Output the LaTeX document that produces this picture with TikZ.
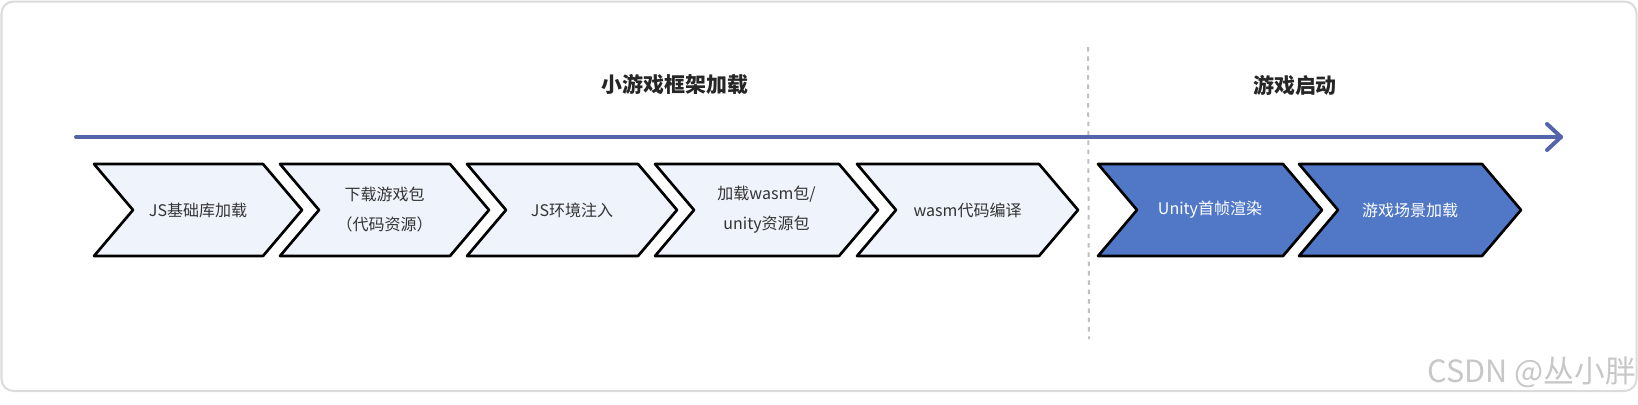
\documentclass[tikz,border=0pt]{standalone}
\usepackage{fontspec}
\setmainfont{Noto Sans CJK SC}
\usepackage{tikz}
\definecolor{lightchevfill}{RGB}{238,243,252}
\definecolor{darkchevfill}{RGB}{80,120,198}
\definecolor{timeline}{RGB}{84,100,170}
\definecolor{stagetext}{RGB}{51,51,51}

\begin{document}
\begin{tikzpicture}[x=0.75pt,y=0.75pt,yscale=-1,xscale=1,
  lightchev/.style={draw=black, fill=lightchevfill, line width=2pt, line join=round},
  darkchev/.style={lightchev, fill=darkchevfill},
  stagelabel/.style={inner sep=0.75pt, align=center, text=stagetext, font=\fontsize{12}{22.5}\selectfont},
  darklabel/.style={stagelabel, text=white},
  phaselabel/.style={inner sep=0.75pt, text=black!85, font=\fontsize{15.7}{18}\selectfont\bfseries}]
\useasboundingbox (0,0) rectangle (1638,404);

%Rounded Rect [id:frame] 
\draw [color=black!14, line width=1.5pt, rounded corners=9pt] (1.5,1.5) rectangle (1636.5,391) ;

%Straight Lines [id:divider] 
\coordinate (div top) at (1088,47);
\coordinate (div bottom) at (1089,339);
\draw [color=black!25, line width=1.5pt, dash pattern=on 3.4pt off 3.6pt] (div top) -- (div bottom) ;

%Straight Lines [id:timeline] 
\coordinate (tl start) at (76,137);
\coordinate (tl end) at (1561,137);
\draw [color=timeline, line width=3pt, line cap=round] (tl start) -- (tl end) ;
\draw [shift={(tl end)}, color=timeline, line width=3pt, line cap=round, line join=round] (-14,-13) -- (0,0) -- (-14,13) ;

%Shape: Chevron [id:chev1] 
\draw [lightchev] (94,164) -- (263,164) -- (302,210) -- (263,256) -- (94,256) -- (133,210) -- cycle ;
%Shape: Chevron [id:chev2] 
\draw [lightchev] (280,164) -- (450,164) -- (489,210) -- (450,256) -- (280,256) -- (319,210) -- cycle ;
%Shape: Chevron [id:chev3] 
\draw [lightchev] (467,164) -- (638,164) -- (677,210) -- (638,256) -- (467,256) -- (506,210) -- cycle ;
%Shape: Chevron [id:chev4] 
\draw [lightchev] (655,164) -- (839,164) -- (878,210) -- (839,256) -- (655,256) -- (694,210) -- cycle ;
%Shape: Chevron [id:chev5] 
\draw [lightchev] (857,164) -- (1039,164) -- (1078,210) -- (1039,256) -- (857,256) -- (896,210) -- cycle ;
%Shape: Chevron [id:chev6] 
\draw [darkchev] (1098,164) -- (1283,164) -- (1322,210) -- (1283,256) -- (1098,256) -- (1137,210) -- cycle ;
%Shape: Chevron [id:chev7] 
\draw [darkchev] (1299,164) -- (1482,164) -- (1521,210) -- (1482,256) -- (1299,256) -- (1338,210) -- cycle ;

% Text Node
\node [phaselabel] (frame load) at (675,85) {小游戏框架加载};
% Text Node
\node [phaselabel] (game start) at (1295,85) {游戏启动};
% Text Node
\node [stagelabel] (js base) at (198,210) {JS基础库加载};
% Text Node
\node [stagelabel] (download) at (384.5,210) {下载游戏包\\（代码资源）};
% Text Node
\node [stagelabel] (js env) at (572,210) {JS环境注入};
% Text Node
\node [stagelabel] (load wasm) at (766.5,210) {加载wasm包/\\unity资源包};
% Text Node
\node [stagelabel] (compile) at (967.5,210) {wasm代码编译};
% Text Node
\node [darklabel] (first frame) at (1210,210) {Unity首帧渲染};
% Text Node
\node [darklabel] (scene load) at (1410,210) {游戏场景加载};
% Text Node
\node [anchor=east, inner sep=0.75pt, text=black!22, font=\fontsize{23}{25}\selectfont] (mark) at (1637,372) {CSDN @丛小胖};

\end{tikzpicture}
\end{document}
